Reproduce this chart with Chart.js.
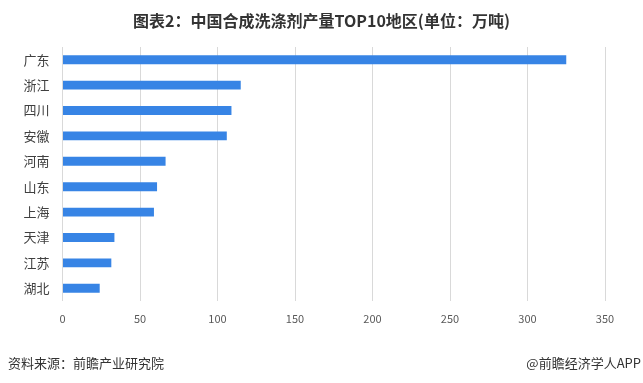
<!DOCTYPE html>
<html>
<head>
<meta charset="utf-8">
<script src="https://cdn.jsdelivr.net/npm/chart.js@4"></script>
<style>
  html, body { margin: 0; padding: 0; background: #fff; }
  #wrap { position: relative; width: 643px; height: 383px; overflow: hidden; }
  #c { position: absolute; left: 0; top: 0; }
  .t { position: absolute; white-space: nowrap; font-family: "Noto Sans CJK SC", sans-serif; }
  #title { left: 0; width: 643px; top: 8px; text-align: center; font-size: 16px; font-weight: bold; color: #333; line-height: 24px; }
  #src { left: 8px; top: 354px; font-size: 13px; color: #333; line-height: 18px; }
  #app { right: 2px; top: 354px; font-size: 13px; color: #333; line-height: 18px; }
</style>
</head>
<body>
<div id="wrap">
  <canvas id="c" width="643" height="383"></canvas>
  <div class="t" id="title">图表2：中国合成洗涤剂产量TOP10地区(单位：万吨)</div>
  <div class="t" id="src">资料来源：前瞻产业研究院</div>
  <div class="t" id="app">@前瞻经济学人APP</div>
</div>
<script>
const regions = ["广东", "浙江", "四川", "安徽", "河南", "山东", "上海", "天津", "江苏", "湖北"];
const output = [325, 115, 109, 106, 66.5, 61, 59, 33.5, 31.5, 24];
const xTicks = [0, 50, 100, 150, 200, 250, 300, 350];

new Chart(document.getElementById('c'), {
  type: 'bar',
  data: {
    labels: regions,
    datasets: [{
      data: output,
      backgroundColor: '#3784E5',
      barPercentage: 0.7,
      categoryPercentage: 0.5
    }]
  },
  options: {
    indexAxis: 'y',
    responsive: false,
    animation: false,
    devicePixelRatio: 1,
    layout: { padding: { top: 47, right: 38, bottom: 0, left: 0 } },
    plugins: { legend: { display: false }, tooltip: { enabled: false }, title: { display: false } },
    scales: {
      x: {
        min: 0, max: 350,
        afterBuildTicks: (axis) => { axis.ticks = xTicks.map(v => ({ value: v })); },
        grid: { color: '#d9d9d9', lineWidth: 1, drawTicks: false },
        border: { display: false },
        ticks: { padding: 11, color: '#595959', font: { size: 11, family: '"Noto Sans CJK SC", sans-serif' } },
        afterFit: (axis) => { axis.height = 82; }
      },
      y: {
        grid: { display: false, drawTicks: false },
        border: { display: false },
        ticks: { padding: 13, color: '#404040', font: { size: 13, family: '"Noto Sans CJK SC", sans-serif' } },
        afterFit: (axis) => { axis.width = 62.5; }
      }
    }
  }
});
</script>
</body>
</html>
